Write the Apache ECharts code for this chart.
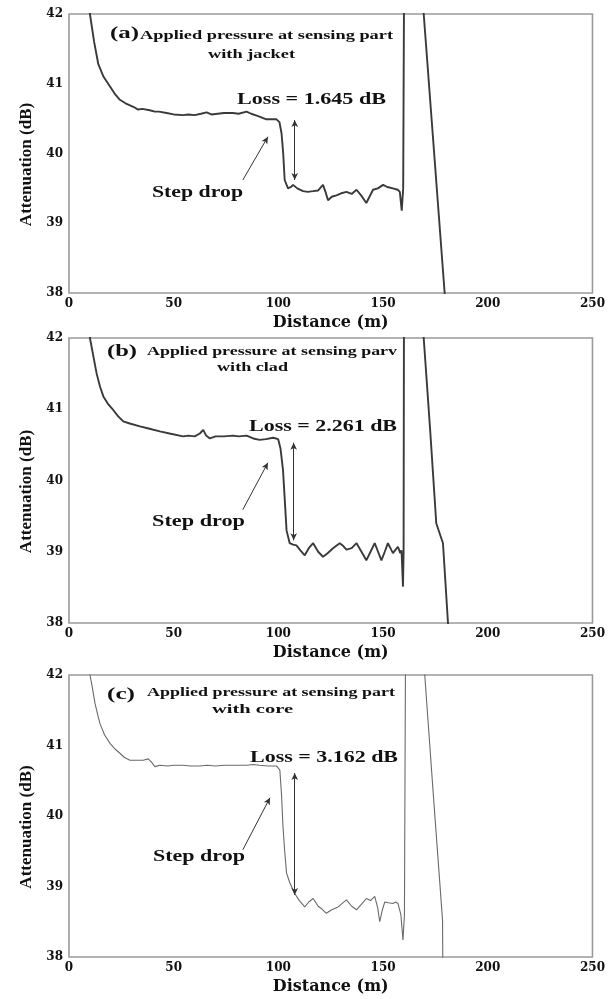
<!DOCTYPE html>
<html>
<head>
<meta charset="utf-8">
<script src="https://cdn.jsdelivr.net/npm/echarts@6/dist/echarts.min.js"></script>
<style>
html, body { margin: 0; padding: 0; background: #fff; }
#chart { width: 608px; height: 999px; }
</style>
</head>
<body>
<div id="chart"></div>
<script>
// OTDR traces, distance (m) vs attenuation (dB)
const distA = [8, 10, 12, 14, 16.5, 19.6, 22, 24.3, 27, 30.7, 33, 35, 38.6, 41, 43, 46.6, 50, 54.5, 57, 60, 63, 65.7, 68, 71, 74, 78.3, 81, 84.8, 87, 90, 94.3, 97, 99.1, 100.5, 101.5, 102.3, 103, 104.6, 106, 107, 109, 111.8, 114, 116.6, 119, 121.3, 122.5, 123.7, 125.5, 127.7, 130, 132.5, 135, 137.3, 139.5, 142, 143.5, 145.2, 147.5, 150, 152, 154.7, 157, 158, 158.9, 159.6, 160.1, 167, 169.4, 179.4, 181];
const attA = [42.8, 42.0, 41.6, 41.28, 41.1, 40.96, 40.85, 40.77, 40.72, 40.67, 40.63, 40.64, 40.62, 40.6, 40.6, 40.58, 40.56, 40.55, 40.56, 40.55, 40.57, 40.59, 40.56, 40.57, 40.58, 40.58, 40.57, 40.6, 40.57, 40.54, 40.49, 40.49, 40.49, 40.45, 40.29, 40.0, 39.62, 39.5, 39.52, 39.55, 39.5, 39.46, 39.45, 39.46, 39.47, 39.55, 39.45, 39.33, 39.38, 39.4, 39.43, 39.45, 39.42, 39.48, 39.4, 39.29, 39.38, 39.48, 39.5, 39.55, 39.52, 39.5, 39.48, 39.45, 39.18, 39.5, 43, 43, 42, 38, 37.4];

const distB = [8, 10, 11.6, 13.2, 14.8, 16.4, 18.5, 21.1, 23.5, 25.9, 29, 33.9, 38, 43.4, 48, 54.5, 57, 60, 62.5, 64.1, 65.5, 67.3, 70, 74, 78.3, 81, 84.8, 88, 91.1, 94, 97.5, 99.9, 101, 102.2, 103.1, 103.9, 105.4, 107, 108.6, 110.5, 112.6, 114.5, 116.6, 119, 121.3, 123.5, 126.1, 129.3, 131, 132.5, 135, 137.3, 139.7, 142, 144, 146, 147.6, 149.2, 150.8, 152.3, 153.5, 154.7, 156, 157.1, 158.2, 158.8, 159.5, 159.8, 160, 167.5, 169.4, 172.5, 175.4, 178.6, 181, 182];
const attB = [42.8, 42.0, 41.75, 41.5, 41.32, 41.18, 41.08, 40.99, 40.9, 40.83, 40.8, 40.76, 40.73, 40.69, 40.66, 40.62, 40.63, 40.62, 40.66, 40.71, 40.63, 40.59, 40.62, 40.62, 40.63, 40.62, 40.63, 40.59, 40.57, 40.58, 40.6, 40.58, 40.45, 40.15, 39.7, 39.3, 39.12, 39.1, 39.09, 39.02, 38.95, 39.05, 39.12, 39.0, 38.93, 38.98, 39.05, 39.12, 39.08, 39.03, 39.05, 39.12, 39.0, 38.88, 39.0, 39.12, 39.0, 38.88, 39.0, 39.12, 39.05, 38.98, 39.03, 39.07, 38.98, 39.02, 38.51, 39.0, 43, 43, 42, 40.7, 39.4, 39.12, 38, 37.5];

const distC = [8, 10, 11, 12.4, 13.6, 14.8, 17, 19.6, 22, 24.3, 26.5, 29.1, 32, 35.5, 37.8, 39.5, 41, 43.4, 47, 50, 54.5, 58, 62.5, 66, 70, 74, 78.3, 82, 85, 87.9, 91, 95, 99.1, 100.7, 101.5, 102.2, 103, 103.9, 105.5, 107, 107.8, 110, 112.6, 114.5, 116.6, 119, 120.8, 122.9, 125.5, 128.5, 130.5, 132.5, 135, 137.3, 139.7, 142, 144, 146, 147.4, 148.4, 149.5, 150.8, 152.5, 154.7, 156, 157.1, 158.5, 159.5, 160.2, 160.8, 168, 169.9, 174, 178.4, 178.6];
const attC = [43, 42.0, 41.85, 41.6, 41.45, 41.31, 41.15, 41.03, 40.95, 40.89, 40.83, 40.79, 40.79, 40.79, 40.81, 40.76, 40.7, 40.72, 40.71, 40.72, 40.72, 40.71, 40.71, 40.72, 40.71, 40.72, 40.72, 40.72, 40.72, 40.73, 40.72, 40.71, 40.71, 40.65, 40.3, 39.85, 39.5, 39.19, 39.05, 38.95, 38.9, 38.8, 38.71, 38.78, 38.83, 38.72, 38.68, 38.62, 38.67, 38.71, 38.76, 38.81, 38.72, 38.67, 38.75, 38.83, 38.8, 38.86, 38.7, 38.5, 38.65, 38.78, 38.77, 38.76, 38.78, 38.76, 38.6, 38.24, 38.6, 43, 43, 42, 40.3, 38.52, 37.5];

// annotation arrows: [x1, y1, x2, y2] in data units
const stepArrowA = [83, 39.62, 95, 40.24];
const lossArrowA = [107.8, 40.48, 107.8, 39.62];
const stepArrowB = [83, 39.59, 95, 40.25];
const lossArrowB = [107.3, 40.53, 107.3, 39.16];
const stepArrowC = [83, 39.52, 96, 40.26];
const lossArrowC = [107.8, 40.61, 107.8, 38.88];

const lossLabels = ['Loss = 1.645 dB', 'Loss = 2.261 dB', 'Loss = 3.162 dB'];
const panelTags = ['(a)', '(b)', '(c)'];
const panelLine1 = ['Applied pressure at sensing part', 'Applied pressure at sensing parv', 'Applied pressure at sensing part'];
const panelLine2 = ['with jacket', 'with clad', 'with core'];

const chart = echarts.init(document.getElementById('chart'));

const serif = '"Liberation Serif", "Times New Roman", serif';
const wideSerif = '"DejaVu Serif", serif';

const grids = [
  {left: 69, top: 14, width: 524, height: 279},
  {left: 69, top: 338, width: 524, height: 285},
  {left: 69, top: 675, width: 526, height: 282}
];

function zip(xs, ys) {
  return xs.map((x, i) => [x, ys[i]]);
}

function arrowLine(a, both) {
  return {
    silent: true,
    animation: false,
    symbol: both ? ['arrow', 'arrow'] : ['none', 'arrow'],
    symbolSize: [5, 7],
    label: {show: false},
    lineStyle: {color: '#333', width: 1, type: 'solid'},
    data: [[{coord: [a[0], a[1]]}, {coord: [a[2], a[3]]}]]
  };
}

// text stretched horizontally like the scanned figure
const measureCtx = document.createElement('canvas').getContext('2d');
function fitText(text, x, y, width, size) {
  measureCtx.font = 'bold ' + size + 'px ' + serif;
  const w = measureCtx.measureText(text).width;
  return {
    type: 'text', x: x, y: y, scaleX: width / w, silent: true, z: 10,
    style: {
      text: text, fontSize: size, fontWeight: 'bold', fontFamily: serif,
      fill: '#111', verticalAlign: 'middle', align: 'left'
    }
  };
}

const xAxes = grids.map((g, i) => ({
  gridIndex: i,
  type: 'value',
  min: 0, max: 250, interval: 50,
  name: 'Distance (m)',
  nameLocation: 'middle',
  nameGap: 22,
  nameTextStyle: {fontFamily: wideSerif, fontWeight: 'bold', fontSize: 16, color: '#111'},
  axisLine: {show: false},
  axisTick: {show: false},
  splitLine: {show: false},
  axisLabel: {fontFamily: wideSerif, fontWeight: 'bold', fontSize: 12, color: '#111', margin: 5}
}));

const yAxes = grids.map((g, i) => ({
  gridIndex: i,
  type: 'value',
  min: 38, max: 42, interval: 1,
  name: 'Attenuation (dB)',
  nameLocation: 'middle',
  nameGap: 32,
  nameTextStyle: {fontFamily: serif, fontWeight: 'bold', fontSize: 17, color: '#111', padding: [0, 22, 0, 0]},
  axisLine: {show: false},
  axisTick: {show: false},
  splitLine: {show: false},
  axisLabel: {fontFamily: wideSerif, fontWeight: 'bold', fontSize: 12, color: '#111', margin: 6}
}));

const traces = [zip(distA, attA), zip(distB, attB), zip(distC, attC)];
const stepArrows = [stepArrowA, stepArrowB, stepArrowC];
const lossArrows = [lossArrowA, lossArrowB, lossArrowC];

const series = [];
traces.forEach((d, i) => {
  series.push({
    type: 'line',
    xAxisIndex: i, yAxisIndex: i,
    data: d,
    showSymbol: false,
    clip: true,
    animation: false,
    lineStyle: i < 2 ? {color: '#3a3a3a', width: 1.9} : {color: '#6a6a6a', width: 1.1},
    markLine: arrowLine(stepArrows[i], false)
  });
  series.push({
    type: 'line',
    xAxisIndex: i, yAxisIndex: i,
    data: [],
    animation: false,
    markLine: arrowLine(lossArrows[i], true)
  });
});

// text positions per panel
const tagPos = [[110, 34, 29], [107, 352, 30], [107, 695, 28]];
const line1Pos = [[140, 36, 253], [147, 352, 250], [147, 693, 248]];
const line2Pos = [[208, 55, 87], [217, 368, 71], [212, 710, 81]];
const lossPos = [[237, 100, 149], [249, 427, 148], [250, 758, 148]];
const stepPos = [[152, 193, 91], [152, 522, 93], [153, 857, 92]];

const graphics = [];
for (let i = 0; i < 3; i++) {
  graphics.push(fitText(panelTags[i], tagPos[i][0], tagPos[i][1], tagPos[i][2], 16));
  graphics.push(fitText(panelLine1[i], line1Pos[i][0], line1Pos[i][1], line1Pos[i][2], 12));
  graphics.push(fitText(panelLine2[i], line2Pos[i][0], line2Pos[i][1], line2Pos[i][2], 12));
  graphics.push(fitText(lossLabels[i], lossPos[i][0], lossPos[i][1], lossPos[i][2], 16));
  graphics.push(fitText('Step drop', stepPos[i][0], stepPos[i][1], stepPos[i][2], 16));
}

chart.setOption({
  backgroundColor: '#fff',
  animation: false,
  grid: grids.map(g => Object.assign({show: true, borderColor: '#9a9a9a', borderWidth: 1.6, backgroundColor: 'transparent'}, g)),
  xAxis: xAxes,
  yAxis: yAxes,
  series: series,
  graphic: graphics
});
</script>
</body>
</html>
